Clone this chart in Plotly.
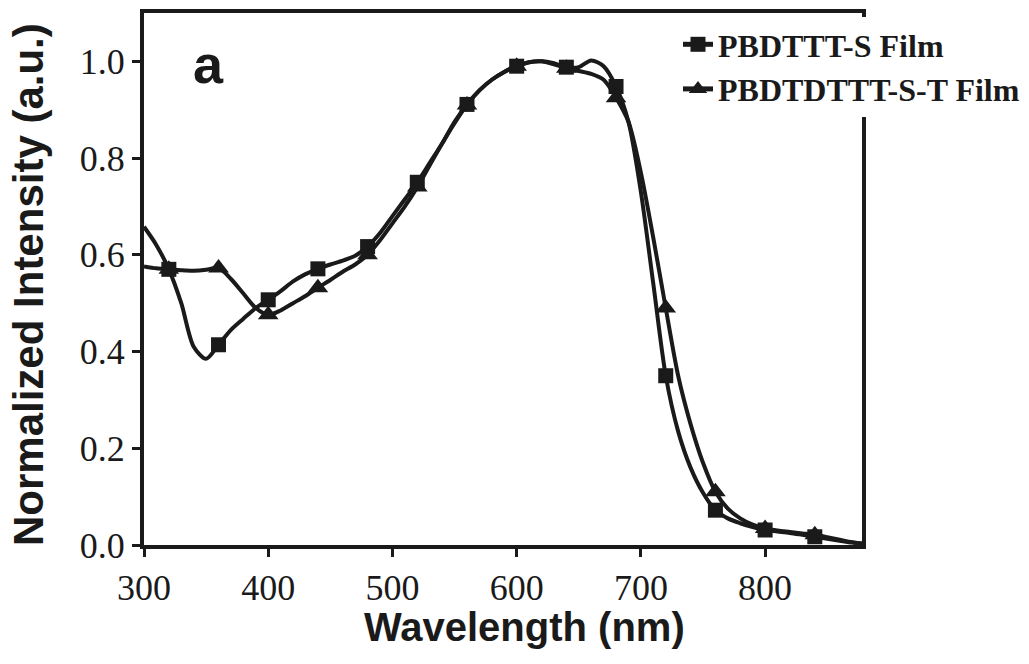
import plotly.graph_objects as go

# Wavelength grid (nm)
wavelength = [300, 310, 320, 330, 340, 350, 360, 370, 380, 390, 400, 410, 420, 430, 440,
              450, 460, 470, 480, 490, 500, 510, 520, 530, 540, 550, 560, 570, 580, 590,
              600, 610, 620, 630, 640, 650, 660, 670, 680, 690, 700, 710, 720, 730, 740,
              750, 760, 770, 780, 790, 800, 810, 820, 830, 840, 850, 860, 870, 878]

# PBDTTT-S Film
pbdttt_s = [0.658, 0.62, 0.57, 0.50, 0.41, 0.385, 0.414, 0.445, 0.468, 0.49, 0.507, 0.525,
            0.545, 0.56, 0.571, 0.58, 0.588, 0.598, 0.617, 0.645, 0.68, 0.715, 0.75, 0.79,
            0.83, 0.875, 0.911, 0.94, 0.962, 0.978, 0.99, 0.998, 1.0, 0.996, 0.988, 0.988,
            1.002, 0.99, 0.948, 0.875, 0.73, 0.54, 0.35, 0.235, 0.16, 0.108, 0.072, 0.055,
            0.045, 0.037, 0.031, 0.028, 0.025, 0.021, 0.017, 0.013, 0.009, 0.005, 0.003]

# PBDTDTTT-S-T Film
pbdtdttt_s_t = [0.576, 0.572, 0.57, 0.568, 0.567, 0.569, 0.573, 0.55, 0.52, 0.49, 0.476,
                0.485, 0.50, 0.515, 0.532, 0.548, 0.565, 0.58, 0.60, 0.63, 0.665, 0.70,
                0.74, 0.785, 0.83, 0.872, 0.91, 0.94, 0.962, 0.978, 0.99, 0.998, 1.0, 0.994,
                0.986, 0.98, 0.974, 0.962, 0.925, 0.875, 0.77, 0.635, 0.49, 0.35, 0.25,
                0.17, 0.11, 0.075, 0.055, 0.042, 0.034, 0.03, 0.027, 0.024, 0.021, 0.016,
                0.011, 0.006, 0.003]

# Marker wavelengths (every 40 nm)
marker_wl = [320, 360, 400, 440, 480, 520, 560, 600, 640, 680, 720, 760, 800, 840]

series_names = ["PBDTTT-S Film", "PBDTDTTT-S-T Film"]
x_ticks = [300, 400, 500, 600, 700, 800]
y_ticks = [0.0, 0.2, 0.4, 0.6, 0.8, 1.0]

idx = [wavelength.index(w) for w in marker_wl]

fig = go.Figure()
for name, vals, sym, msize in [(series_names[0], pbdttt_s, "square", 15),
                               (series_names[1], pbdtdttt_s_t, "triangle-up", 18)]:
    fig.add_trace(go.Scatter(
        x=wavelength, y=vals, mode="lines", showlegend=False,
        line=dict(color="#1a1a1a", width=4, shape="spline", smoothing=0.8),
        hoverinfo="skip"))
    fig.add_trace(go.Scatter(
        x=[wavelength[i] for i in idx], y=[vals[i] for i in idx],
        mode="markers", showlegend=False,
        marker=dict(symbol=sym, size=msize, color="#1a1a1a", line=dict(width=0))))
    # legend entry
    fig.add_trace(go.Scatter(
        x=[None], y=[None], mode="lines+markers", name=name,
        line=dict(color="#1a1a1a", width=5),
        marker=dict(symbol=sym, size=msize, color="#1a1a1a")))

axis_common = dict(
    showline=True, linecolor="#1a1a1a", linewidth=4, mirror=True,
    ticks="outside", ticklen=8, tickwidth=3, tickcolor="#1a1a1a",
    showgrid=False, zeroline=False,
    tickfont=dict(family="Liberation Serif, Times New Roman, serif", size=36, color="#1a1a1a"),
)

L, R, T, B = 144, 1029 - 167, 13, 664 - 119


def px_x(p):
    return (p - L) / (R - L)


def px_y(p):
    return (B - p) / (B - T)


fig.update_layout(
    width=1029, height=664,
    margin=dict(l=L, r=1029 - R, t=T, b=664 - B, autoexpand=False),
    paper_bgcolor="white", plot_bgcolor="white",
    xaxis=dict(range=[300, 878], tickvals=x_ticks, ticktext=[str(v) for v in x_ticks], **axis_common),
    yaxis=dict(range=[0, 1.1], tickvals=y_ticks, ticktext=[f"{v:.1f}" for v in y_ticks], **axis_common),
    legend=dict(x=px_x(678), y=px_y(17), xanchor="left", yanchor="top",
                bgcolor="white", borderwidth=0,
                font=dict(family="Liberation Serif, Times New Roman, serif", size=32,
                          color="#1a1a1a", weight="bold"),
                tracegroupgap=0, itemsizing="trace"),
    annotations=[
        dict(text="<b>a</b>", x=px_x(208), y=px_y(64), xref="paper", yref="paper",
             xanchor="center", yanchor="middle", showarrow=False,
             font=dict(family="Liberation Sans, Arial, sans-serif", size=54, color="#1a1a1a")),
        dict(text="<b>Wavelength (nm)</b>", x=px_x(524), y=px_y(627), xref="paper", yref="paper",
             xanchor="center", yanchor="middle", showarrow=False,
             font=dict(family="Liberation Sans, Arial, sans-serif", size=40, color="#1a1a1a")),
        dict(text="<b>Normalized Intensity (a.u.)</b>", x=px_x(28), y=px_y(285),
             xref="paper", yref="paper", xanchor="center", yanchor="middle",
             showarrow=False, textangle=-90,
             font=dict(family="Liberation Sans, Arial, sans-serif", size=42, color="#1a1a1a")),
    ],
)

fig.write_html("out.html")
